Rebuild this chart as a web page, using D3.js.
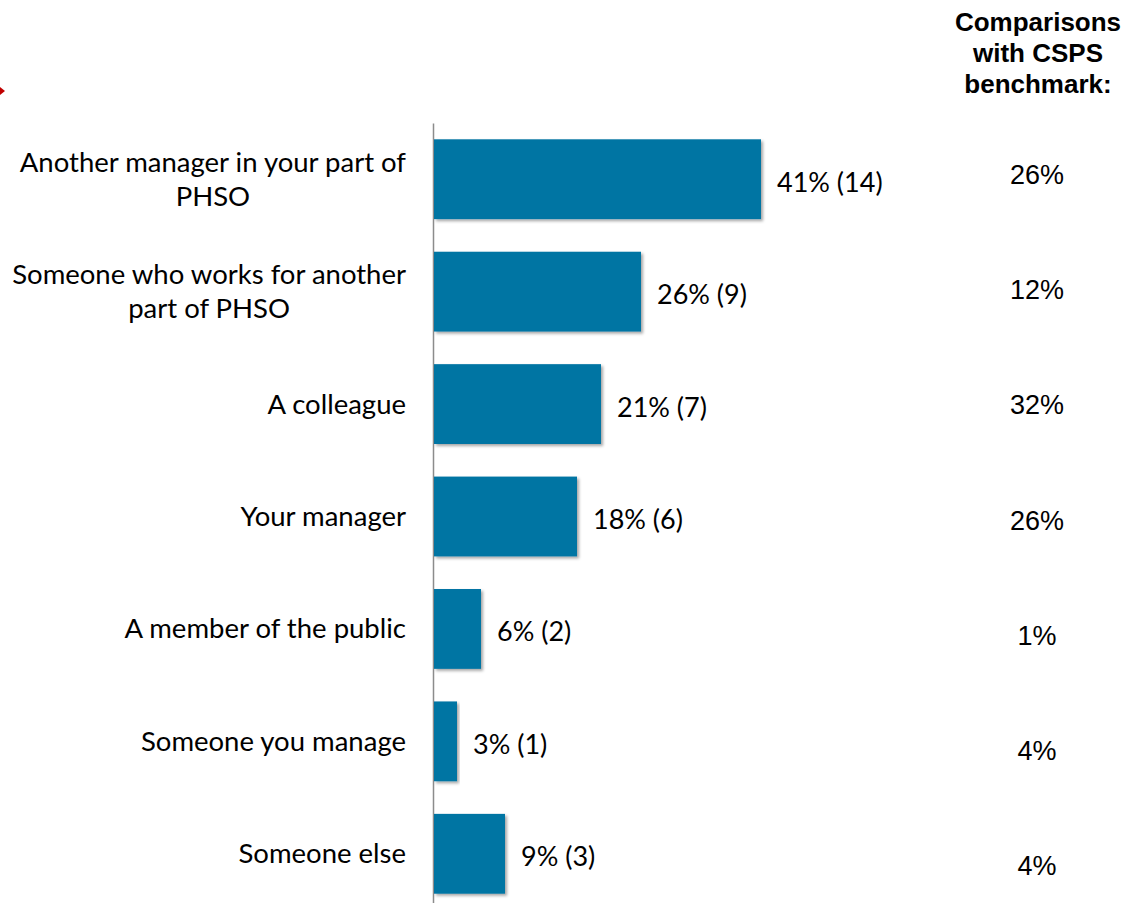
<!DOCTYPE html>
<html>
<head>
<meta charset="utf-8">
<script src="https://cdn.jsdelivr.net/npm/d3@7"></script>
<style>
  html, body { margin: 0; padding: 0; background: #ffffff; }
  svg { display: block; }
</style>
</head>
<body>
<svg id="chart" width="1144" height="903"></svg>
<script>
// Who was the source of the bullying / harassment (share of respondents, count)
const categories = [
  "Another manager in your part of\nPHSO",
  "Someone who works for another\npart of PHSO",
  "A colleague",
  "Your manager",
  "A member of the public",
  "Someone you manage",
  "Someone else"
];
const percentValues = [41, 26, 21, 18, 6, 3, 9];
const countValues = [14, 9, 7, 6, 2, 1, 3];
const benchmarkValues = ["26%", "12%", "32%", "26%", "1%", "4%", "4%"];
const benchmarkTitle = ["Comparisons", "with CSPS", "benchmark:"];

const svg = d3.select("#chart");
const barColor = "#0074A3";
const labelFont = "Lato, 'Open Sans', sans-serif";
const numFont = "'Liberation Sans', Arial, sans-serif";

// soft shadow under each bar
const defs = svg.append("defs");
const shadow = defs.append("filter").attr("id", "barShadow")
  .attr("x", "-5%").attr("y", "-5%").attr("width", "115%").attr("height", "120%");
shadow.append("feDropShadow")
  .attr("dx", 2).attr("dy", 2).attr("stdDeviation", 1.4)
  .attr("flood-color", "#000").attr("flood-opacity", 0.35);

const x = d3.scaleLinear().domain([0, 100]).range([433, 1233]);
const y = d3.scaleBand().domain(categories).range([123, 910])
  .paddingInner(0.29).paddingOuter(0.145);

// category axis (line only; labels drawn below as centred multi-line blocks)
const axis = svg.append("g")
  .attr("transform", `translate(${x(0)},0)`)
  .call(d3.axisLeft(y).tickSize(0).tickFormat(""));
axis.select(".domain").attr("stroke", "#8c8c8c").attr("stroke-width", 1.5);

// bars
svg.append("g").selectAll("rect")
  .data(categories)
  .join("rect")
  .attr("x", x(0) + 1)
  .attr("y", d => y(d))
  .attr("width", (d, i) => x(percentValues[i]) - x(0) - 1)
  .attr("height", y.bandwidth())
  .attr("fill", barColor)
  .attr("filter", "url(#barShadow)");

// category labels: lines centred within a block that is right-aligned to the axis
const labelRight = x(0) - 27;
const lineGap = 34;
categories.forEach(cat => {
  const lines = cat.split("\n");
  const cy = y(cat) + y.bandwidth() / 2;
  const g = svg.append("g");
  const texts = lines.map((ln, k) => g.append("text")
    .attr("y", cy - 1 + (k - (lines.length - 1) / 2) * lineGap)
    .attr("dominant-baseline", "central")
    .attr("text-anchor", "middle")
    .attr("font-family", labelFont)
    .attr("font-size", 27.5)
    .attr("fill", "#000")
    .text(ln));
  const maxW = d3.max(texts, t => t.node().getComputedTextLength());
  texts.forEach(t => t.attr("x", labelRight - maxW / 2));
});

// value labels
svg.append("g").selectAll("text")
  .data(categories)
  .join("text")
  .attr("x", (d, i) => x(percentValues[i]) + 16)
  .attr("y", d => y(d) + y.bandwidth() / 2 + 2)
  .attr("dominant-baseline", "central")
  .attr("font-family", labelFont)
  .attr("font-size", 27)
  .attr("fill", "#000")
  .text((d, i) => `${percentValues[i]}% (${countValues[i]})`);

// benchmark column
const colX = 1037;
const by = d3.scalePoint().domain(d3.range(benchmarkValues.length)).range([175, 866]);
svg.append("g").selectAll("text")
  .data(benchmarkValues)
  .join("text")
  .attr("x", colX)
  .attr("y", (d, i) => by(i))
  .attr("text-anchor", "middle")
  .attr("dominant-baseline", "central")
  .attr("font-family", numFont)
  .attr("font-size", 27)
  .attr("fill", "#000")
  .text(d => d);

svg.append("g").selectAll("text")
  .data(benchmarkTitle)
  .join("text")
  .attr("x", colX + 1)
  .attr("y", (d, i) => 31 + i * 31)
  .attr("text-anchor", "middle")
  .attr("font-family", numFont)
  .attr("font-size", 26)
  .attr("font-weight", "bold")
  .attr("fill", "#000")
  .text(d => d);

// small red pointer at the left edge
svg.append("path")
  .attr("d", "M0,87 L5,91 L0,95 Z")
  .attr("fill", "#C00000");
</script>
</body>
</html>
